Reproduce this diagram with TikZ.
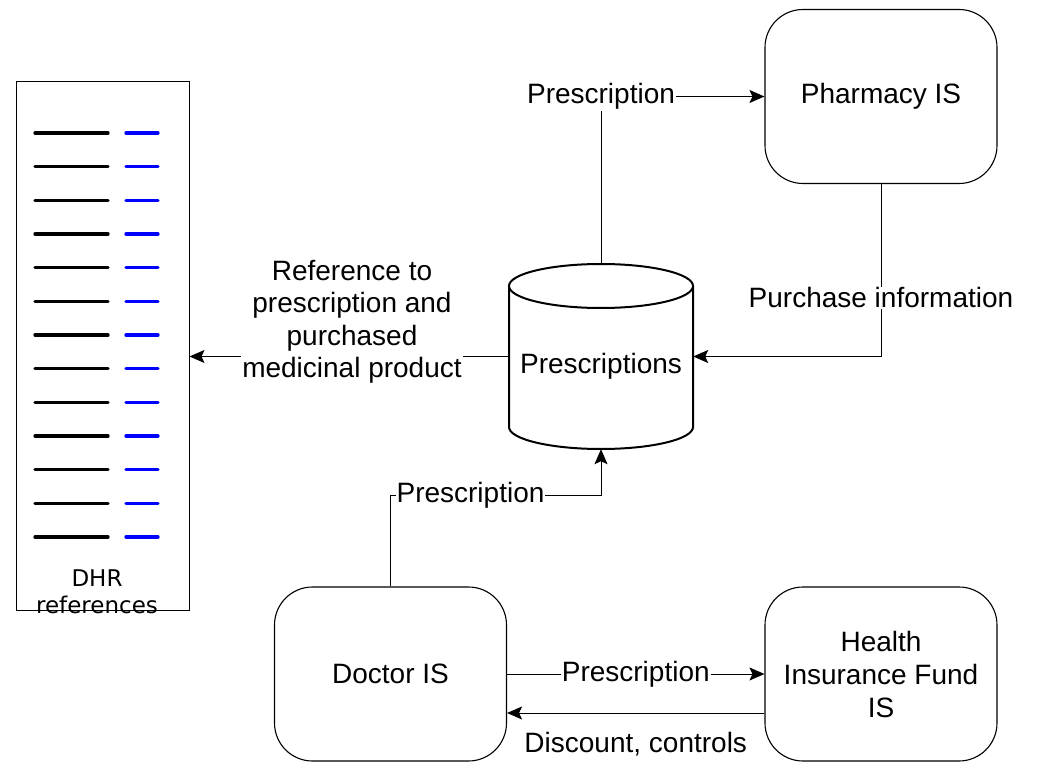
\documentclass[tikz,border=0pt]{standalone}
\usepackage{fontspec}
\setmainfont{Liberation Sans}
\newfontfamily\dejavu{DejaVu Sans}
\usetikzlibrary{arrows.meta}
\definecolor{refblue}{RGB}{0,0,255}
\tikzset{
  box/.style={draw, line width=1.1pt, rounded corners=38pt, minimum width=232pt, minimum height=174pt, align=center, font=\fontsize{28}{33}\selectfont},
  arr/.style={line width=1pt, -{Stealth[length=15pt,width=13pt,inset=3pt]}},
  lab/.style={fill=white, inner sep=1pt, align=center, font=\fontsize{28}{32.5}\selectfont},
  refline/.style={line width=3.3pt, line cap=round},
}
\begin{document}
\begin{tikzpicture}[x=1pt,y=-1pt]
\useasboundingbox (0,0) rectangle (1039,762);
% DHR box
\node[draw, line width=1pt, minimum width=173pt, minimum height=528pt, inner sep=0pt] (dhr) at (102.5,346) {};
\foreach \i in {0,...,12} {
  \draw[refline] (35,133+33.67*\i) -- (108,133+33.67*\i);
  \draw[refline, refblue] (126,133+33.67*\i) -- (158,133+33.67*\i);
}
\node[align=center, font=\dejavu\fontsize{23}{27}\selectfont] (dhrlab) at (97,592) {DHR\\references};
% boxes
\node[box] (pharm) at (881,96.5) {Pharmacy IS};
\node[box] (doc) at (390.5,674) {Doctor IS};
\node[box] (hif) at (881,674) {Health\\Insurance Fund\\IS};
% cylinder
\node[minimum width=184pt, minimum height=185pt, inner sep=0pt] (cyl) at (601,356.5) {};
\draw[line width=2pt, fill=white] (509,286) -- (509,427) arc[start angle=180, end angle=360, x radius=92pt, y radius=22pt] -- (693,286);
\draw[line width=2pt, fill=white] (601,286) ellipse[x radius=92pt, y radius=22pt];
\node[font=\fontsize{28}{32}\selectfont] (cyltext) at (601,366) {Prescriptions};
% connectors
\draw[arr] (cyl.north) |- node[lab, pos=0.5] {Prescription} (pharm.west);
\draw[arr] (pharm.south) |- node[lab, pos=0.33] {Purchase information} (cyl.east);
\draw[arr] (cyl.west) -- (dhr.east |- cyl.west);
\node[lab] (reflab) at (352,322) {Reference to\\prescription and\\purchased\\medicinal product};
\draw[arr] (doc.north) |- (601,495) node[lab, pos=0.69] {Prescription} -- (cyl.south);
\draw[arr] (doc.east) -- node[lab] {Prescription} (hif.west);
\draw[arr] ([yshift=-39pt]hif.west) -- node[lab, yshift=-31pt] {Discount, controls} ([yshift=-39pt]doc.east);
\end{tikzpicture}
\end{document}
